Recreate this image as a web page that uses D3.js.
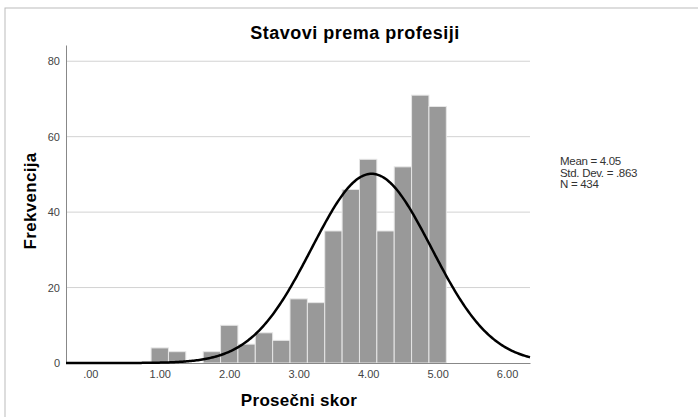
<!DOCTYPE html>
<html>
<head>
<meta charset="utf-8">
<script src="https://cdn.jsdelivr.net/npm/d3@7"></script>
<style>
  body { margin: 0; background: #fff; }
  svg { font-family: "Liberation Sans", Arial, sans-serif; }
</style>
</head>
<body>
<svg id="chart" width="698" height="417"></svg>
<script>
// histogram bins (centre of each 0.25 wide bin) and their counts
const binCenters = [1.00, 1.25, 1.75, 2.00, 2.25, 2.50, 2.75, 3.00, 3.25, 3.50, 3.75, 4.00, 4.25, 4.50, 4.75, 5.00];
const counts = [4, 3, 3, 10, 5, 8, 6, 17, 16, 35, 46, 54, 35, 52, 71, 68];
const binWidth = 0.25;

const xTicks = [0, 1, 2, 3, 4, 5, 6];
const yTicks = [0, 20, 40, 60, 80];

const mean = 4.05, stdDev = 0.863, n = 434;
const statsLines = ["Mean = 4.05", "Std. Dev. = .863", "N = 434"];

const svg = d3.select("#chart");

// outer frame
svg.append("rect")
    .attr("x", 5).attr("y", 8)
    .attr("width", 720).attr("height", 440)
    .attr("fill", "none")
    .attr("stroke", "#bbb");

const x = d3.scaleLinear().domain([-0.35, 6.33]).range([66, 530]);
const y = d3.scaleLinear().domain([0, 84.3]).range([363, 45]);

// gridlines
svg.append("g")
    .selectAll("line")
    .data(yTicks.filter(d => d > 0))
    .enter().append("line")
    .attr("x1", 66).attr("x2", 530)
    .attr("y1", d => y(d)).attr("y2", d => y(d))
    .attr("stroke", "#d2d2d2")
    .attr("stroke-width", 1);

// bars
const bw = x(binWidth) - x(0);
svg.append("g")
    .selectAll("rect")
    .data(binCenters)
    .enter().append("rect")
    .attr("x", d => x(d) - bw / 2)
    .attr("width", bw)
    .attr("y", (d, i) => y(counts[i]))
    .attr("height", (d, i) => y(0) - y(counts[i]))
    .attr("fill", "#999999")
    .attr("stroke", "#e6e6e6")
    .attr("stroke-width", 1);

// axes
const yAxis = svg.append("g")
    .attr("transform", "translate(66,0)")
    .call(d3.axisLeft(y).tickValues(yTicks).tickSize(0).tickPadding(6));
yAxis.select(".domain").attr("stroke", "#888");
yAxis.selectAll("text").attr("font-size", 11).attr("fill", "#444")
    .attr("font-family", "Liberation Sans, Arial, sans-serif");

const xAxis = svg.append("g")
    .attr("transform", `translate(0,${y(0)})`)
    .call(d3.axisBottom(x).tickValues(xTicks).tickSize(0).tickPadding(7)
        .tickFormat(d => d === 0 ? ".00" : d3.format(".2f")(d)));
xAxis.select(".domain").attr("stroke", "#888");
xAxis.selectAll("text").attr("font-size", 11).attr("fill", "#444")
    .attr("font-family", "Liberation Sans, Arial, sans-serif");

// normal curve from mean / sd / N
const scale = n * binWidth / (stdDev * Math.sqrt(2 * Math.PI));
const curveXs = d3.range(x.domain()[0], x.domain()[1] + 0.001, 0.02);
const line = d3.line()
    .x(d => x(d))
    .y(d => y(scale * Math.exp(-0.5 * Math.pow((d - mean) / stdDev, 2))));
svg.append("path")
    .datum(curveXs)
    .attr("fill", "none")
    .attr("stroke", "#000")
    .attr("stroke-width", 2.5)
    .attr("d", line);

// title and axis labels
svg.append("text")
    .attr("x", 355).attr("y", 39)
    .attr("text-anchor", "middle")
    .attr("font-size", 18).attr("font-weight", "bold")
    .attr("letter-spacing", 0.5)
    .text("Stavovi prema profesiji");

svg.append("text")
    .attr("x", 299).attr("y", 406)
    .attr("text-anchor", "middle")
    .attr("font-size", 17).attr("font-weight", "bold")
    .attr("letter-spacing", 0.3)
    .text("Prosečni skor");

svg.append("text")
    .attr("transform", "translate(36,201) rotate(-90)")
    .attr("text-anchor", "middle")
    .attr("font-size", 17).attr("font-weight", "bold")
    .attr("letter-spacing", 0.3)
    .text("Frekvencija");

// stats legend
svg.append("g")
    .selectAll("text")
    .data(statsLines)
    .enter().append("text")
    .attr("x", 560)
    .attr("y", (d, i) => 165 + i * 11.5)
    .attr("font-size", 11.5)
    .attr("letter-spacing", -0.3)
    .attr("fill", "#333")
    .text(d => d);
</script>
</body>
</html>
